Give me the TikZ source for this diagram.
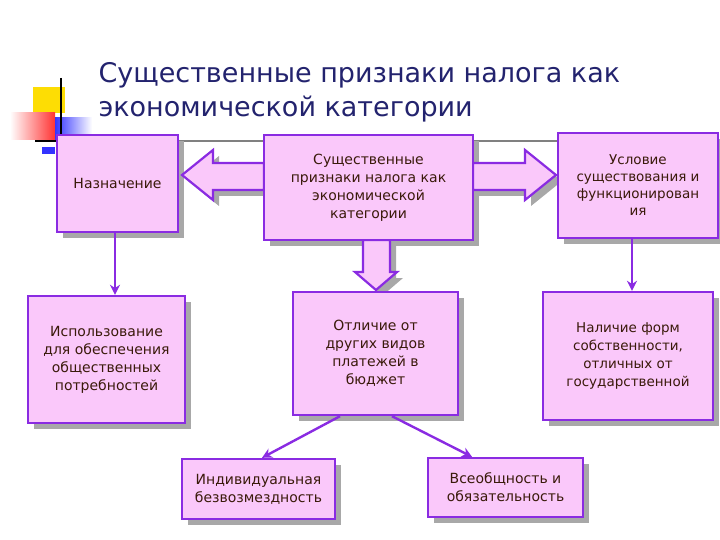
\documentclass[tikz,border=0pt]{standalone}
\usepackage{fontspec}
\setmainfont{DejaVu Sans}
\usetikzlibrary{arrows.meta}
\begin{document}
\begin{tikzpicture}[x=1pt,y=-1pt,
  box/.style={draw=vio,line width=2.4pt,fill=pinkf,align=center,text=txt,font=\fontsize{14}{18}\selectfont,inner sep=2pt},
  con/.style={draw=vio,line width=2.4pt,-{Stealth[length=10pt,width=10pt]}},
  barrow/.style={draw=vio,line width=2.2pt,fill=pinkf}]
\definecolor{vio}{HTML}{8A2BE2}
\definecolor{pinkf}{HTML}{FAC8FA}
\definecolor{txt}{HTML}{3A1A0A}
\definecolor{navy}{HTML}{23236E}
\definecolor{shd}{HTML}{A8A8A8}
\useasboundingbox (0,0) rectangle (720,540);
% logo
\fill[yellow!80!orange] (33,87) rectangle (65,113);
\shade[left color=white,right color=red!80] (10,113) rectangle (55,140);
\shade[left color=blue!80,right color=white] (55,118) rectangle (92,140);
\fill[blue!80] (42,147) rectangle (55,154);
\draw[line width=1.4pt] (61,78) -- (61,141);
\draw[line width=1.4pt] (35,141) -- (60,141);
\draw[gray,line width=1.6pt] (62,141) -- (720,141);
\node[anchor=west,text=navy,font=\fontsize{27}{34}\selectfont,align=left] (title) at (95,92) {Существенные признаки налога как\\экономической категории};
% shadows
\foreach \a/\b/\c/\d in {57/135/178/232,264/135/473/240,558/133/718/238,28/296/185/423,293/292/458/415,543/292/713/420,182/459/335/519,428/458/583/517}
  \fill[shd] (\a+6,\b+6) rectangle (\c+6,\d+6);
% block arrows
\fill[shd] (270,169) -- (219,169) -- (219,156) -- (188,181) -- (219,206) -- (219,196) -- (270,196) -- cycle;
\draw[barrow] (264,163) -- (213,163) -- (213,150) -- (182,175) -- (213,200) -- (213,190) -- (264,190) -- cycle;
\fill[shd] (479,169) -- (531,169) -- (531,156) -- (562,181) -- (531,206) -- (531,196) -- (479,196) -- cycle;
\draw[barrow] (473,163) -- (525,163) -- (525,150) -- (556,175) -- (525,200) -- (525,190) -- (473,190) -- cycle;
\fill[shd] (369,246) -- (396,246) -- (396,278) -- (403,278) -- (382,296) -- (361,278) -- (369,278) -- cycle;
\draw[barrow] (363,240) -- (390,240) -- (390,272) -- (397,272) -- (376,290) -- (355,272) -- (363,272) -- cycle;
% boxes
\node[box,minimum width=121,minimum height=97] (nazn) at (117.5,183.5) {Назначение};
\node[box,minimum width=209,minimum height=105] (main) at (368.5,187.5) {Существенные\\признаки налога как\\экономической\\категории};
\node[box,minimum width=160,minimum height=105,font=\fontsize{13.5}{17}\selectfont] (usl) at (638,185.5) {Условие\\существования и\\функционирован\\ия};
\node[box,minimum width=157,minimum height=127] (isp) at (106.5,359.5) {Использование\\для обеспечения\\общественных\\потребностей};
\node[box,minimum width=165,minimum height=123] (otl) at (375.5,353.5) {Отличие от\\других видов\\платежей в\\бюджет};
\node[box,minimum width=170,minimum height=128,font=\fontsize{13.5}{18}\selectfont] (nal) at (628,356) {Наличие форм\\собственности,\\отличных от\\государственной};
\node[box,minimum width=153,minimum height=60] (ind) at (258.5,489) {Индивидуальная\\безвозмездность};
\node[box,minimum width=155,minimum height=59] (vse) at (505.5,487.5) {Всеобщность и\\обязательность};
% connectors
\draw[con] (nazn.south -| 115,0) -- (isp.north -| 115,0);
\draw[con] (usl.south -| 632,0) -- (nal.north -| 632,0);
\draw[con] (otl.south -| 340,0) -- (ind.north -| 262,0);
\draw[con] (otl.south -| 392,0) -- (vse.north -| 472,0);
\end{tikzpicture}
\end{document}
